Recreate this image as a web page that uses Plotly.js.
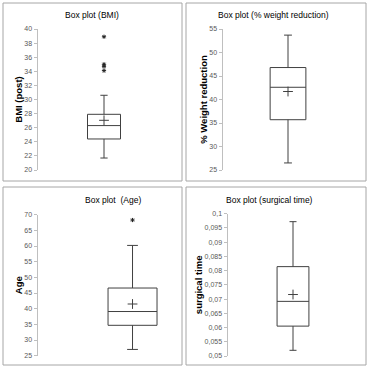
<!DOCTYPE html>
<html><head><meta charset="utf-8">
<script src="https://cdn.plot.ly/plotly-3.0.1.min.js"></script>
<style>body{margin:0;background:#fff}#c{width:369px;height:368px}</style></head>
<body><div id="c"></div><script>
// ---- data ----
const panelTitles = ["Box plot (BMI)", "Box plot (% weight reduction)", "Box plot  (Age)", "Box plot (surgical time)"];
const yTitles = ["BMI (post)", "% Weight reduction", "Age", "surgical time"];
const q1 = [24.4, 35.7, 34.7, 0.0605];
const medians = [26.3, 42.6, 39.1, 0.0692];
const q3 = [27.9, 46.8, 46.6, 0.0814];
const lowerWhisker = [21.7, 26.5, 27.0, 0.0520];
const upperWhisker = [30.6, 53.7, 60.2, 0.0972];
const means = [27.05, 41.7, 41.5, 0.0716];
const outliersBMI = [38.9, 35.0, 34.7, 34.1];
const outliersPct = [];
const outliersAge = [68.3];
const outliersTime = [];
const yRanges = [[20, 40], [25, 55], [25, 70], [0.05, 0.1]];
const yDticks = [2, 5, 5, 0.005];
const timeTickVals = [0.05, 0.055, 0.06, 0.065, 0.07, 0.075, 0.08, 0.085, 0.09, 0.095, 0.1];
const timeTickText = ["0,05", "0,055", "0,06", "0,065", "0,07", "0,075", "0,08", "0,085", "0,09", "0,095", "0,1"];

// ---- layout helpers ----
const outliers = [outliersBMI, outliersPct, outliersAge, outliersTime];
const W = 369, H = 368;
const px = (a, b) => [a / W, b / W];
const py = (top, bot) => [1 - bot / H, 1 - top / H];
const xDom = [px(38, 170), px(223, 353), px(38, 176), px(228, 358)];
const yDom = [py(29, 170), py(29, 170), py(214.7, 355.7), py(213.7, 356)];
const xRanges = [[-2, 2], [-2, 2], [-2.74, 1.26], [-2, 2]];
const boxW = [1, 1.1, 1.42, 0.98];
const standoffs = [0, 0, 0, 0];
const frames = [[3, 3, 182, 181], [186, 3, 366, 181], [3, 187, 182, 365], [186, 187, 366, 365]];
const titlePos = [[92, 15], [273, 15], [113, 200], [269, 200]];
const ink = '#404040';
const FONT = 'Liberation Sans Narrow, Liberation Sans, Arial, sans-serif';

const traces = [];
const layout = {
  width: W, height: H, margin: {l: 0, r: 0, t: 0, b: 0},
  paper_bgcolor: '#fff', plot_bgcolor: '#fff', showlegend: false,
  font: {family: FONT, color: '#262626'},
  shapes: [], annotations: []
};
for (let i = 0; i < 4; i++) {
  const s = i === 0 ? '' : String(i + 1);
  const xa = 'x' + s, ya = 'y' + s;
  traces.push({
    type: 'box', x: [0], xaxis: xa, yaxis: ya,
    q1: [q1[i]], median: [medians[i]], q3: [q3[i]],
    lowerfence: [lowerWhisker[i]], upperfence: [upperWhisker[i]],
    width: boxW[i], whiskerwidth: 0.22, boxpoints: false,
    fillcolor: '#ffffff', line: {color: ink, width: 1}, hoverinfo: 'skip'
  });
  traces.push({
    type: 'scatter', mode: 'markers', x: [0], y: [means[i]], xaxis: xa, yaxis: ya,
    marker: {symbol: 'cross-thin', size: 7, line: {color: ink, width: 1}}, hoverinfo: 'skip'
  });
  if (outliers[i].length) {
    traces.push({
      type: 'scatter', mode: 'markers', x: outliers[i].map(() => 0), y: outliers[i], xaxis: xa, yaxis: ya,
      marker: {symbol: 'asterisk', size: 3.5, line: {color: '#222', width: 1}}, hoverinfo: 'skip'
    });
  }
  layout['xaxis' + s] = {domain: xDom[i], range: xRanges[i], visible: false, anchor: ya, fixedrange: true};
  const yax = {
    domain: yDom[i], range: yRanges[i], anchor: xa, automargin: false,
    showgrid: false, zeroline: false, showline: true, linecolor: '#bfbfbf', linewidth: 1.5,
    ticks: 'outside', ticklen: 3, tickcolor: '#bfbfbf', tickwidth: 1,
    minor: {ticks: 'inside', ticklen: 2, tickcolor: '#bfbfbf', dtick: yDticks[i] / 2, tick0: yRanges[i][0] + yDticks[i] / 2, showgrid: false},
    tickfont: {size: 7, color: '#595959', family: FONT},
    title: {text: yTitles[i], font: {size: 9.5, color: '#000', family: FONT, weight: 'bold'}, standoff: standoffs[i]}
  };
  yax.minor = undefined;
  if (i === 3) { yax.tickmode = 'array'; yax.tickvals = timeTickVals; yax.ticktext = timeTickText; }
  else { yax.tick0 = yRanges[i][0]; yax.dtick = yDticks[i]; }
  layout['yaxis' + s] = yax;
  const f = frames[i];
  layout.shapes.push({type: 'rect', xref: 'paper', yref: 'paper',
    x0: f[0] / W, x1: f[2] / W, y0: 1 - f[3] / H, y1: 1 - f[1] / H,
    line: {color: '#a6a6a6', width: 1}, fillcolor: 'rgba(0,0,0,0)'});
  layout.annotations.push({text: panelTitles[i], xref: 'paper', yref: 'paper',
    x: titlePos[i][0] / W, y: 1 - titlePos[i][1] / H, xanchor: 'center', yanchor: 'middle',
    showarrow: false, font: {size: 8.5, color: '#000', family: FONT}});
}
Plotly.newPlot('c', traces, layout, {staticPlot: true});
</script></body></html>
